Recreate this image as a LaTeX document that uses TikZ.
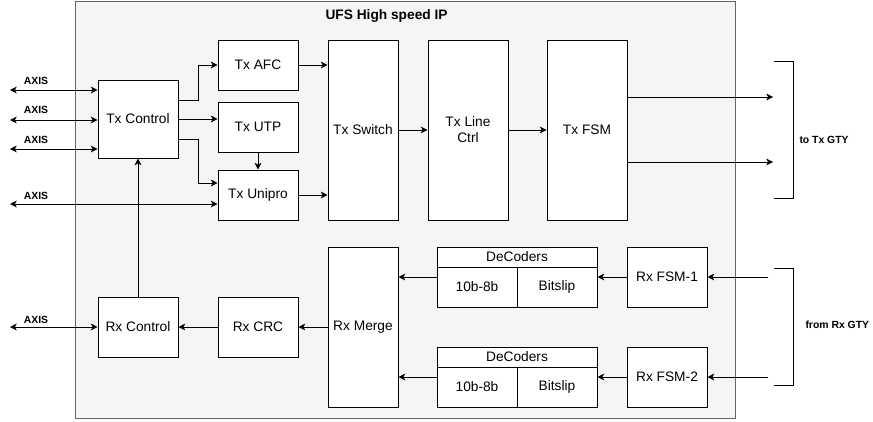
\documentclass[tikz,border=0pt]{standalone}
\usepackage{fontspec}
\setmainfont{Liberation Sans}
\usetikzlibrary{%
  arrows,%
  arrows.meta,%
  positioning,%
  calc%
}

\begin{document}
\begin{tikzpicture}[
  x=0.75pt, y=-0.75pt, line width=0.75pt,
  font=\fontsize{10.3}{12}\selectfont, >={Stealth[length=5pt,width=5pt,inset=1.3pt]},
  block/.style={rectangle, minimum height=37.5pt, minimum width=60pt, draw=black, fill=white, inner sep=1pt, align=center},
  tall/.style={block, minimum height=135pt},
  cell/.style={block, minimum height=30pt},
  hdr/.style={block, minimum height=15pt, minimum width=120pt},
  lbl/.style={font=\fontsize{7.8}{9}\selectfont\bfseries, inner sep=0pt}
]

\useasboundingbox (0,0) rectangle (873,421);
\draw[draw=black!60, fill=black!4] (75,1) rectangle (735,418);
\node[font=\fontsize{10.3}{12}\selectfont\bfseries, anchor=west, inner sep=0pt] (title) at (325,16) {UFS High speed IP};

% transmit path
\node[block, minimum height=58.5pt] (txc) at (138,119) {Tx Control};
\node[block] (txafc) at (258,65) {Tx AFC};
\node[block] (txutp) at (258,127) {Tx UTP};
\node[block] (txuni) at (258,195) {Tx Unipro};
\node[tall, minimum width=52.5pt] (txsw) at (363,130) {Tx Switch};
\node[tall] (txline) at (468,130) {Tx Line\\Ctrl};
\node[tall] (txfsm) at (587,130) {Tx FSM};

% receive path
\node[block, minimum height=45pt] (rxfsm1) at (667,277) {Rx FSM-1};
\node[block, minimum height=45pt] (rxfsm2) at (667,377) {Rx FSM-2};
\node[hdr] (dec1) at (517,257) {DeCoders};
\node[cell] (dec1a) at (477,287) {10b-8b};
\node[cell] (dec1b) at (557,287) {Bitslip};
\node[hdr] (dec2) at (517,357) {DeCoders};
\node[cell] (dec2a) at (477,387) {10b-8b};
\node[cell] (dec2b) at (557,387) {Bitslip};
\node[block, minimum width=52.5pt, minimum height=120pt] (rxm) at (363,327) {Rx Merge};
\node[block, minimum height=45pt] (rxcrc) at (258,327) {Rx CRC};
\node[block, minimum height=45pt] (rxc) at (138,327) {Rx Control};

% AXIS ports
\coordinate (ax1) at (10,90);
\coordinate (ax2) at (10,120);
\coordinate (ax3) at (10,149);
\coordinate (ax4) at (10,204);
\coordinate (ax5) at (10,327);
\draw[<->] (ax1) -- (ax1 -| txc.west);
\draw[<->] (ax2) -- (ax2 -| txc.west);
\draw[<->] (ax3) -- (ax3 -| txc.west);
\draw[<->] (ax4) -- (ax4 -| txuni.west);
\draw[<->] (ax5) -- (rxc.west);
\node[lbl] (axl1) at (36,81) {AXIS};
\node[lbl] (axl2) at (36,110) {AXIS};
\node[lbl] (axl3) at (36,140) {AXIS};
\node[lbl] (axl4) at (36,196) {AXIS};
\node[lbl] (axl5) at (36,320) {AXIS};

\draw[->] ([yshift=14pt]txc.east) -- ++(15pt,0) |- (txafc.west);
\draw[->] (txc.east) -- (txc.east -| txutp.west);
\draw[->] ([yshift=-15pt]txc.east) -- ++(15pt,0) |- ([yshift=9pt]txuni.west);
\draw[->] (txutp) -- (txuni);
\draw[->] (txafc.east) -- (txafc.east -| txsw.west);
\draw[->] (txuni.east) -- (txuni.east -| txsw.west);
\draw[->] (txsw) -- (txline);
\draw[->] (txline) -- (txfsm);

% to / from GTY
\coordinate (gty1) at (773,97);
\coordinate (gty2) at (773,162);
\coordinate (gty3) at (768,277);
\coordinate (gty4) at (768,377);
\draw[->] (gty1 -| txfsm.east) -- (gty1);
\draw[->] (gty2 -| txfsm.east) -- (gty2);
\draw (774,61) -- (793,61) -- (793,198) -- (774,198);
\draw (774,268) -- (793,268) -- (793,385) -- (774,385);
\node[lbl, anchor=west] (txgty) at (799,140) {to Tx GTY};
\node[lbl, anchor=west] (rxgty) at (805,325) {from Rx GTY};

\draw[->] (gty3) -- (rxfsm1.east);
\draw[->] (gty4) -- (rxfsm2.east);
\draw[->] (rxfsm1.west) -- (rxfsm1.west -| dec1b.east);
\draw[->] (rxfsm2.west) -- (rxfsm2.west -| dec2b.east);
\draw[->] (rxfsm1.west -| dec1a.west) -- (rxfsm1.west -| rxm.east);
\draw[->] (rxfsm2.west -| dec2a.west) -- (rxfsm2.west -| rxm.east);
\draw[->] (rxm) -- (rxcrc);
\draw[->] (rxcrc) -- (rxc);
\draw[->] (rxc) -- (txc);
\end{tikzpicture}
\end{document}
